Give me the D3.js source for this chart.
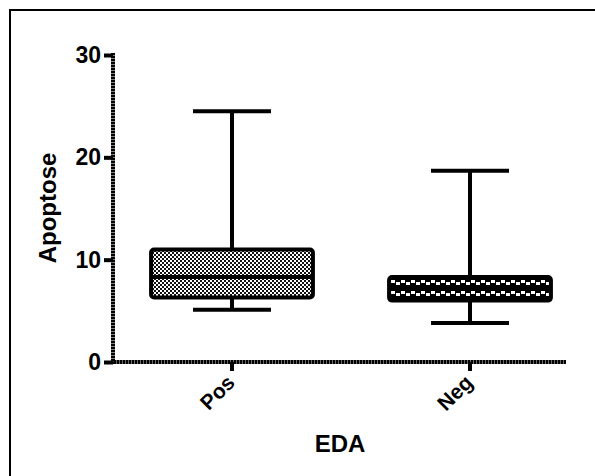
<!DOCTYPE html>
<html>
<head>
<meta charset="utf-8">
<script src="https://cdn.jsdelivr.net/npm/d3@7"></script>
<style>
  body { margin: 0; background: #fff; }
  text { font-family: Arial, "Liberation Sans", sans-serif; font-weight: bold; fill: #000; }
</style>
</head>
<body>
<div id="chart"></div>
<script>
// data
var groups = ["Pos", "Neg"];
var mins = [5.1, 3.8];
var q1s = [6.3, 6.0];
var medians = [8.3, 7.2];
var q3s = [11.0, 8.3];
var maxs = [24.5, 18.7];
var yTicks = [0, 10, 20, 30];

var svgWidth = 595, svgHeight = 476;

var svg = d3.select("#chart").append("svg")
  .attr("width", svgWidth)
  .attr("height", svgHeight);

// fill patterns
var defs = svg.append("defs");
var p1 = defs.append("pattern").attr("id", "patPos")
  .attr("patternUnits", "userSpaceOnUse").attr("width", 4).attr("height", 4);
p1.append("rect").attr("width", 4).attr("height", 4).attr("fill", "#fff");
p1.append("rect").attr("width", 2).attr("height", 2).attr("fill", "#111");
p1.append("rect").attr("x", 2).attr("y", 2).attr("width", 2).attr("height", 2).attr("fill", "#111");

var p2 = defs.append("pattern").attr("id", "patNeg")
  .attr("patternUnits", "userSpaceOnUse").attr("width", 10).attr("height", 11)
  .attr("y", 277);
p2.append("rect").attr("width", 10).attr("height", 11).attr("fill", "#000");
p2.append("rect").attr("x", 1).attr("y", 3).attr("width", 4).attr("height", 3).attr("fill", "#fff");
p2.append("rect").attr("x", 6).attr("y", 5).attr("width", 4).attr("height", 3).attr("fill", "#fff");

// outer frame
svg.append("rect")
  .attr("x", 10).attr("y", 10)
  .attr("width", 600).attr("height", 480)
  .attr("fill", "none").attr("stroke", "#000").attr("stroke-width", 2);

// scales
var x = d3.scaleBand()
  .domain(groups)
  .range([113, 589])
  .paddingInner(0.32)
  .paddingOuter(0.16);

var y = d3.scaleLinear()
  .domain([0, 30])
  .range([362, 55]);

var data = groups.map(function(g, i) {
  return { name: g, min: mins[i], q1: q1s[i], med: medians[i], q3: q3s[i], max: maxs[i],
           fill: i === 0 ? "url(#patPos)" : "url(#patNeg)" };
});

var chart = svg.append("g");

// whiskers
chart.selectAll(".whisker")
  .data(data).enter().append("line")
  .attr("x1", d => x(d.name) + x.bandwidth() / 2)
  .attr("x2", d => x(d.name) + x.bandwidth() / 2)
  .attr("y1", d => y(d.min))
  .attr("y2", d => y(d.max))
  .attr("stroke", "#000").attr("stroke-width", 4);

// caps
["min", "max"].forEach(function(k) {
  chart.selectAll(".cap-" + k)
    .data(data).enter().append("line")
    .attr("x1", d => x(d.name) + x.bandwidth() / 2 - 39)
    .attr("x2", d => x(d.name) + x.bandwidth() / 2 + 39)
    .attr("y1", d => y(d[k]))
    .attr("y2", d => y(d[k]))
    .attr("stroke", "#000").attr("stroke-width", 4);
});

// boxes
chart.selectAll(".box")
  .data(data).enter().append("rect")
  .attr("x", d => x(d.name))
  .attr("y", d => y(d.q3))
  .attr("width", x.bandwidth())
  .attr("height", d => y(d.q1) - y(d.q3))
  .attr("rx", 3)
  .attr("fill", d => d.fill)
  .attr("stroke", "#000").attr("stroke-width", 4);

// medians
chart.selectAll(".median")
  .data(data).enter().append("line")
  .attr("x1", d => x(d.name))
  .attr("x2", d => x(d.name) + x.bandwidth())
  .attr("y1", d => y(d.med))
  .attr("y2", d => y(d.med))
  .attr("stroke", "#000").attr("stroke-width", 4);

// y axis
var yAxis = svg.append("g")
  .attr("transform", "translate(113,0)")
  .call(d3.axisLeft(y).tickValues(yTicks).tickSize(9).tickPadding(3));
yAxis.select(".domain").remove();
yAxis.selectAll(".tick line").attr("stroke", "#000").attr("stroke-width", 4);
yAxis.selectAll(".tick text")
  .attr("font-size", null).attr("font-family", null)
  .style("font-size", "23px").style("font-weight", "bold")
  .style("font-family", "Arial, 'Liberation Sans', sans-serif");

svg.append("line")
  .attr("x1", 113).attr("x2", 113)
  .attr("y1", y(30) - 2).attr("y2", y(0) + 2)
  .attr("stroke", "#000").attr("stroke-width", 4)
  .attr("stroke-dasharray", "2.6,0.4");

// x axis
var xAxis = svg.append("g")
  .attr("transform", "translate(0,362)")
  .call(d3.axisBottom(x).tickSize(9).tickFormat(""));
xAxis.select(".domain").remove();
xAxis.selectAll(".tick line").attr("stroke", "#000").attr("stroke-width", 4);

svg.append("line")
  .attr("x1", 111).attr("x2", 566)
  .attr("y1", 362).attr("y2", 362)
  .attr("stroke", "#000").attr("stroke-width", 4)
  .attr("stroke-dasharray", "2.6,0.4");

// rotated category labels
svg.selectAll(".xlab")
  .data(groups).enter().append("text")
  .attr("transform", d => `translate(${x(d) + x.bandwidth() / 2 + 4}, 384) rotate(-45)`)
  .attr("text-anchor", "end")
  .style("font-size", "21px")
  .text(d => d);

// axis titles
svg.append("text")
  .attr("transform", "translate(56, 208) rotate(-90)")
  .attr("text-anchor", "middle")
  .style("font-size", "24px")
  .text("Apoptose");

svg.append("text")
  .attr("x", 340).attr("y", 452)
  .attr("text-anchor", "middle")
  .style("font-size", "24px")
  .text("EDA");
</script>
</body>
</html>
